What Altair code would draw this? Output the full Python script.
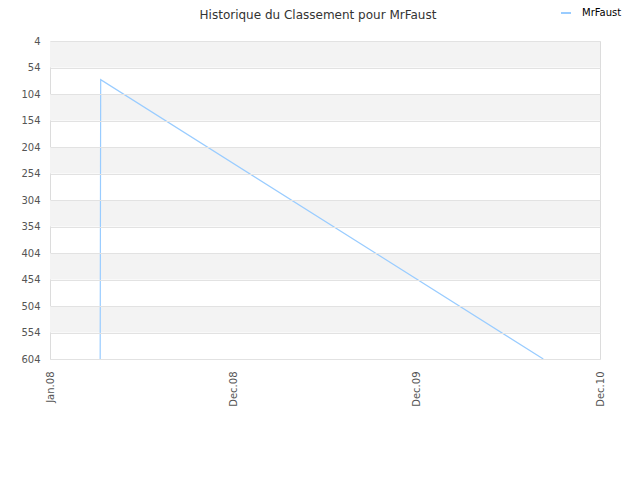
import altair as alt
import pandas as pd

# ---- data ----
series_name = "MrFaust"
dates = ["2008-03-10", "2008-03-11", "2010-08-10"]
ranks = [604, 77, 604]

band_start = [4, 104, 204, 304, 404, 504]
band_end = [54, 154, 254, 354, 454, 554]

y_ticks = [4, 54, 104, 154, 204, 254, 304, 354, 404, 454, 504, 554, 604]
x_tick_years = [2007, 2008, 2009, 2010]
x_tick_labels = ["Jan.08", "Dec.08", "Dec.09", "Dec.10"]

line_df = pd.DataFrame({"date": dates, "rank": ranks, "series": [series_name] * len(dates)})
band_df = pd.DataFrame({"y0": band_start, "y1": band_end})

label_expr = ""
for yr, lab in zip(x_tick_years, x_tick_labels):
    label_expr += f"utcyear(datum.value) == {yr} ? '{lab}' : "
label_expr += "''"

x_values = [alt.DateTime(year=yr, month=12, date=1, utc=True) for yr in x_tick_years]

y_scale = alt.Scale(domain=[4, 604], reverse=True, nice=False, zero=False)
x_scale = alt.Scale(type="utc",
                    domain=[alt.DateTime(year=2007, month=12, date=1, utc=True),
                            alt.DateTime(year=2010, month=12, date=1, utc=True)])

y_axis = alt.Axis(values=y_ticks, grid=True, gridColor="#e2e2e2", tickSize=0,
                  labelPadding=10, domain=False, title=None, zindex=1,
                  labelFontSize=10, labelColor="#555555")

bands = alt.Chart(band_df).mark_rect(color="#f3f3f3").encode(
    y=alt.Y("y0:Q", scale=y_scale, axis=y_axis),
    y2="y1:Q",
)

line = alt.Chart(line_df).mark_line(strokeWidth=1.2, clip=True).encode(
    x=alt.X("date:T", scale=x_scale,
            axis=alt.Axis(values=x_values, labelExpr=label_expr, labelAngle=270,
                          labelAlign="right", labelBaseline="middle", labelPadding=12,
                          tickSize=0, grid=False, domain=False, title=None,
                          labelFontSize=10, labelColor="#555555")),
    y=alt.Y("rank:Q", scale=y_scale, axis=y_axis),
    color=alt.Color("series:N",
                    scale=alt.Scale(domain=[series_name], range=["#99ccff"]),
                    legend=alt.Legend(title=None, orient="none", legendX=510, legendY=-34,
                                      symbolType="stroke", symbolSize=100,
                                      symbolStrokeWidth=2, labelFontSize=10,
                                      labelOffset=10, labelColor="#000000")),
)

chart = alt.layer(bands, line).properties(
    width=550,
    height=318,
    title=alt.TitleParams("Historique du Classement pour MrFaust", fontSize=12,
                          fontWeight="normal", color="#333333", anchor="middle",
                          dx=-7, dy=15, offset=0),
    autosize=alt.AutoSizeParams(type="none"),
    padding={"left": 42, "top": 33, "right": 32, "bottom": 80},
).configure(font="DejaVu Sans").configure_view(stroke="#dcdcdc")

chart.save("out.html", embed_options={"renderer": "svg", "actions": False})
